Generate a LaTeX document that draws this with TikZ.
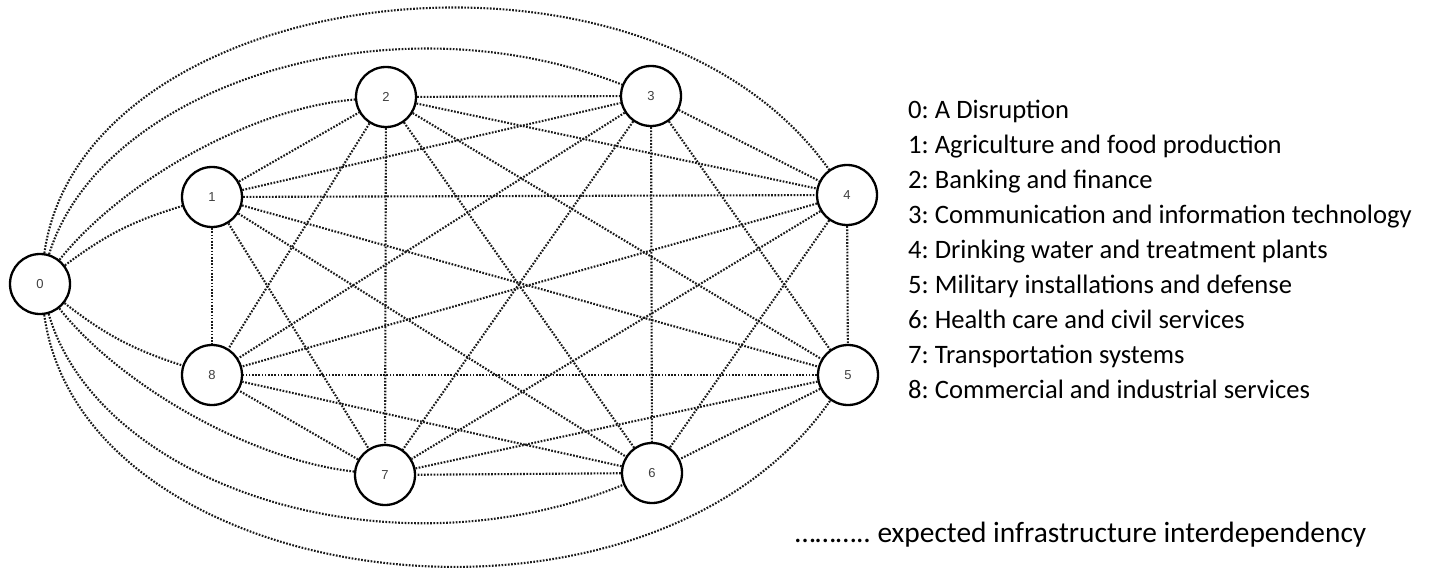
\documentclass[tikz,border=0pt]{standalone}
\usepackage{fontspec}
\setmainfont{Carlito}
\newfontfamily\labelfont{Liberation Sans}
\usetikzlibrary{backgrounds}
\frenchspacing
\begin{document}
\begin{tikzpicture}[x=1pt,y=-1pt,
  vertex/.style={circle, draw=black, line width=2.3pt, fill=white, minimum size=60pt,
    inner sep=0pt, font=\labelfont\fontsize{13}{13}\selectfont, text=black!75},
  link/.style={draw=black!90, line width=2.1pt, dash pattern=on 1.7pt off 1.5pt},
  legend/.style={anchor=base west, inner sep=0pt, font=\fontsize{26.6}{30}\selectfont}]
\useasboundingbox (0,0) rectangle (1431,575);

% sectors
\node[vertex] (n0) at (40,284) {0};
\node[vertex] (n1) at (212,197) {1};
\node[vertex] (n2) at (386,97) {2};
\node[vertex] (n3) at (651,96) {3};
\node[vertex] (n4) at (847,195) {4};
\node[vertex] (n5) at (848,375) {5};
\node[vertex] (n6) at (652,473) {6};
\node[vertex] (n7) at (385,475) {7};
\node[vertex] (n8) at (212,375) {8};

\begin{scope}[on background layer]
  % every sector depends on every other one
  \foreach \a in {1,...,7}{
    \pgfmathtruncatemacro\nxt{\a+1}
    \foreach \b in {\nxt,...,8}{
      \draw[link] (n\a) -- (n\b);
    }
  }
  % the disruption reaches all sectors
  \draw[link] (n0) to[bend left=10] (n1);
  \draw[link] (n0) .. controls (122,182) and (250,108) .. (n2);
  \draw[link] (n0) .. controls (100,88) and (386,-8) .. (n3);
  \draw[link] (n0) .. controls (83,-20) and (645,-90) .. (n4);
  \draw[link] (n0) to[bend right=10] (n8);
  \draw[link] (n0) .. controls (120,385) and (250,460) .. (n7);
  \draw[link] (n0) .. controls (98,484) and (386,582) .. (n6);
  \draw[link] (n0) .. controls (83,595) and (645,667) .. (n5);
\end{scope}

% legend
\node[legend] (l0) at (908,118) {0: A Disruption};
\node[legend] (l1) at (908,153) {1: Agriculture and food production};
\node[legend] (l2) at (908,188) {2: Banking and finance};
\node[legend] (l3) at (908,223) {3: Communication and information technology};
\node[legend] (l4) at (908,258) {4: Drinking water and treatment plants};
\node[legend] (l5) at (908,293) {5: Military installations and defense};
\node[legend] (l6) at (908,328) {6: Health care and civil services};
\node[legend] (l7) at (908,363) {7: Transportation systems};
\node[legend] (l8) at (908,398) {8: Commercial and industrial services};

\node[anchor=base west, inner sep=0pt, font=\fontsize{29.4}{33}\selectfont] (key) at (795,542)
  {……….. expected infrastructure interdependency};
\end{tikzpicture}
\end{document}
